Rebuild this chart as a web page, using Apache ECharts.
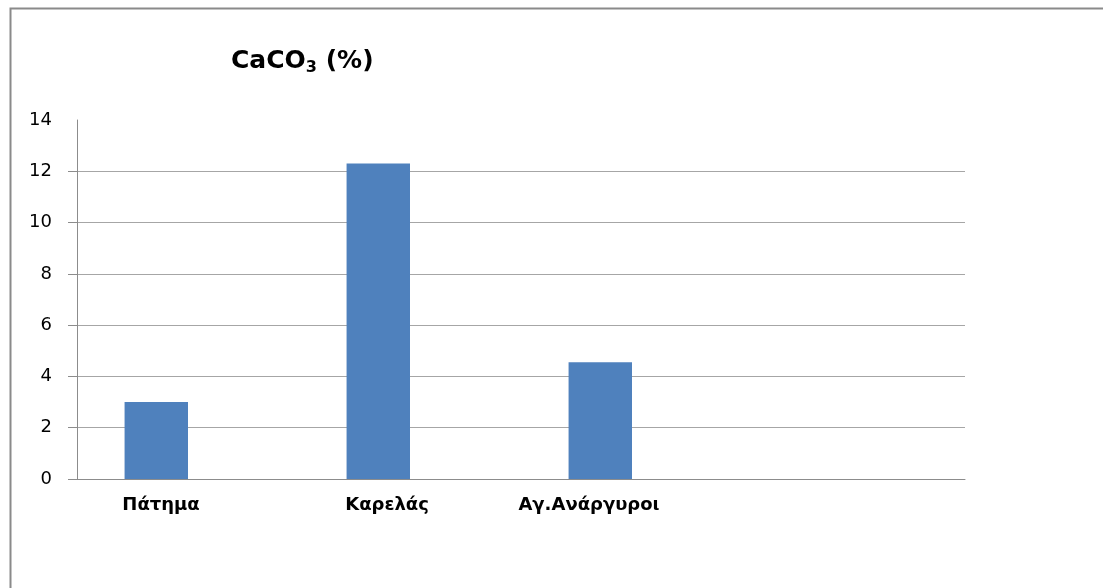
<!DOCTYPE html>
<html>
<head>
<meta charset="utf-8">
<title>CaCO3 (%)</title>
<script src="https://cdn.jsdelivr.net/npm/echarts@6/dist/echarts.min.js"></script>
<style>
  html, body { margin: 0; padding: 0; background: #ffffff; }
  #chart { width: 1103px; height: 588px; }
</style>
</head>
<body>
<div id="chart"></div>
<script>
// Sampling sites (the fourth slot is an unused column of the sheet)
const categories = ['Πάτημα', 'Καρελάς', 'Αγ.Ανάργυροι', ''];
// Carbonate content per site, %
const caco3 = [3.0, 12.3, 4.55, null];
// Second, empty data column that still reserves its slot in each group
const emptyColumn = [null, null, null, null];
// Value-axis ticks
const yTicks = [0, 2, 4, 6, 8, 10, 12, 14];

// Horizontal shift (px, leftwards) of each category label
const labelShift = [27, 23, 43, 0];

const chart = echarts.init(document.getElementById('chart'), null, { renderer: 'canvas' });

const rich = {};
labelShift.forEach(function (s, i) {
  rich['c' + i] = {
    fontFamily: 'DejaVu Sans',
    fontWeight: 'bold',
    fontSize: 18,
    color: '#000000',
    padding: [0, s * 2, 0, 0]
  };
});

chart.setOption({
  backgroundColor: '#ffffff',
  animation: false,
  title: {
    text: 'CaCO{sub|3} (%)',
    left: 226,
    top: 41,
    textStyle: {
      fontFamily: 'DejaVu Sans',
      fontWeight: 'bold',
      fontSize: 25,
      color: '#000000',
      rich: {
        sub: {
          fontFamily: 'DejaVu Sans',
          fontWeight: 'bold',
          fontSize: 16,
          color: '#000000',
          verticalAlign: 'bottom',
          padding: [14, 0, 0, 0]
        }
      }
    }
  },
  graphic: [{
    type: 'rect',
    left: 8,
    top: 6,
    shape: { width: 1200, height: 700 },
    style: { fill: 'none', stroke: '#8a8a8a', lineWidth: 2 },
    silent: true
  }],
  grid: {
    left: 77,
    right: 138,
    top: 120,
    bottom: 109,
    containLabel: false
  },
  xAxis: {
    type: 'category',
    data: categories,
    axisLine: { show: true, lineStyle: { color: '#8c8c8c', width: 1 } },
    axisTick: { show: false },
    splitLine: { show: false },
    axisLabel: {
      interval: 0,
      margin: 17,
      formatter: function (value, index) {
        return value ? '{c' + index + '|' + value + '}' : '';
      },
      rich: rich
    }
  },
  yAxis: {
    type: 'value',
    min: 0,
    max: 14,
    interval: 2,
    axisLine: { show: true, lineStyle: { color: '#8c8c8c', width: 1 } },
    axisTick: {
      show: true,
      inside: false,
      length: 9,
      customValues: yTicks.slice(0, -1),
      lineStyle: { color: '#8c8c8c', width: 1 }
    },
    splitLine: {
      show: true,
      showMinLine: false,
      showMaxLine: true,
      lineStyle: { color: '#a6a6a6', width: 1 }
    },
    axisLabel: {
      customValues: yTicks,
      margin: 25,
      fontFamily: 'DejaVu Sans',
      fontSize: 18,
      color: '#000000'
    }
  },
  series: [
    {
      name: 'CaCO3',
      type: 'bar',
      data: caco3,
      barGap: '0%',
      barCategoryGap: '42.857%',
      itemStyle: { color: '#4f81bd' }
    },
    {
      name: 'empty',
      type: 'bar',
      data: emptyColumn,
      itemStyle: { color: '#c0504d' }
    }
  ]
});
</script>
</body>
</html>
